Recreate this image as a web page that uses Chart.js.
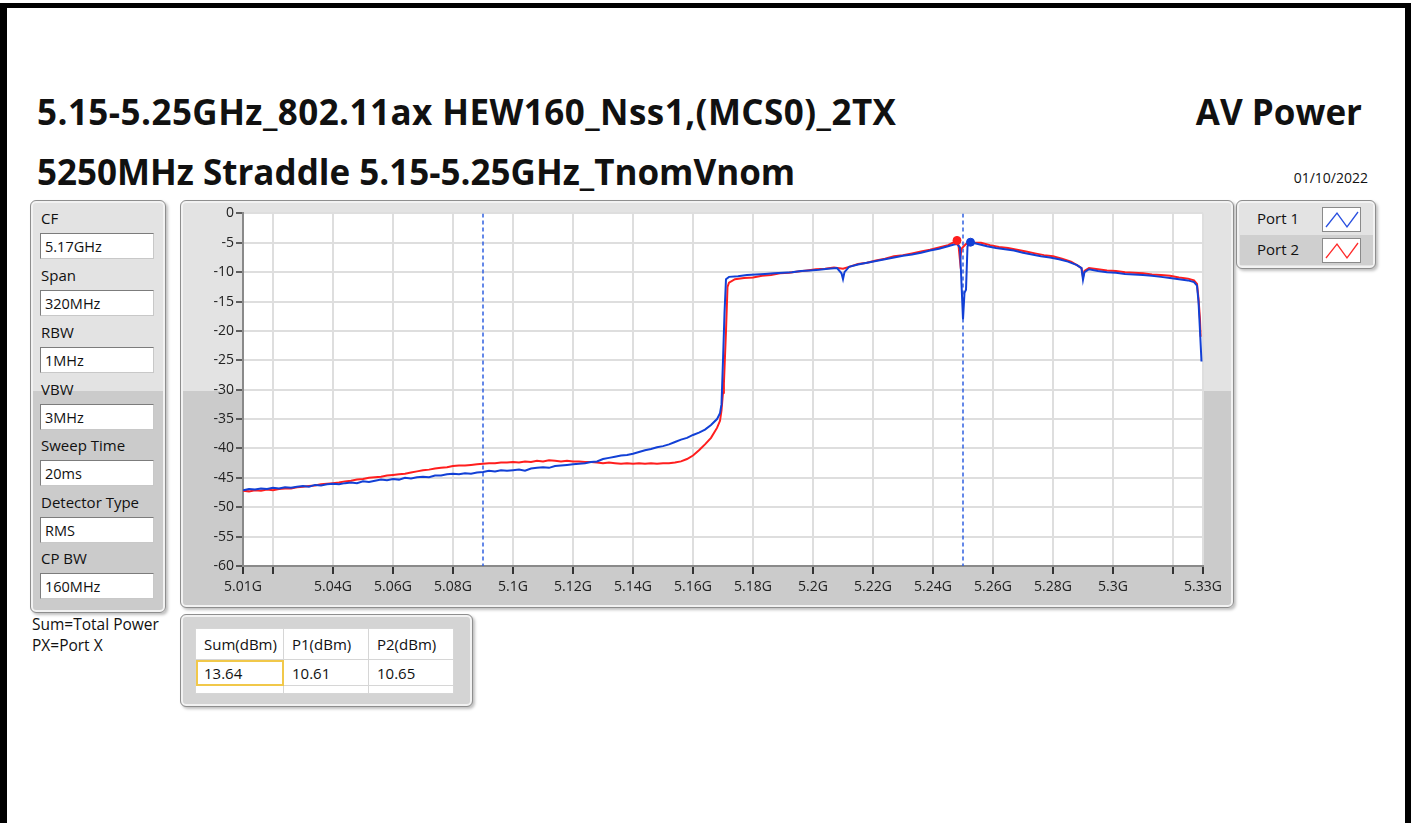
<!DOCTYPE html>
<html>
<head>
<meta charset="utf-8">
<script src="https://cdn.jsdelivr.net/npm/chart.js@4"></script>
<style>
  html, body { margin: 0; padding: 0; background: #fff; }
  body { width: 1415px; height: 823px; position: relative; overflow: hidden; font-family: "Open Sans", "Noto Sans", sans-serif; color: #111; }
  .frame { position: absolute; left: 0; top: 3px; width: 1398px; height: 830px; border-left: 7px solid #000; border-top: 5px solid #000; border-right: 6px solid #000; }
  .title { position: absolute; font-weight: bold; font-size: 35px; white-space: nowrap; color: #111; }
  .date { position: absolute; font-size: 14px; right: 47px; top: 168px; }
  .panel { position: absolute; border: 1px solid #8e8e8e; border-radius: 6px; box-shadow: inset 0 0 0 2px #f2f2f2, 2px 2px 3px rgba(0,0,0,0.25); }
  .split { background: linear-gradient(#e3e3e3 0, #e3e3e3 190px, #cbcbcb 190px, #cbcbcb 100%); }
  .lbl { position: absolute; left: 10px; font-size: 15px; }
  .box { position: absolute; left: 9px; width: 114px; height: 26px; background: #fff; border: 1px solid #7c7c7c; border-right-color: #c8c8c8; border-bottom-color: #c8c8c8; font-size: 14.5px; line-height: 26px; padding-left: 4px; box-sizing: border-box; }
  .note { position: absolute; left: 32px; font-size: 15.5px; }
  .legrow { position: absolute; left: 3px; width: 133px; height: 30px; }
  .legrow span { position: absolute; left: 17px; top: 4px; font-size: 15px; }
  .legrow svg { position: absolute; left: 82px; top: 3px; background: #fff; border: 1px solid #8a8a8a; }
  table { position: absolute; left: 14px; top: 13px; border-collapse: collapse; background: #fff; font-size: 15px; }
  td { border: 1px solid #d6d6d6; height: 26px; padding: 0 0 0 8px; box-sizing: border-box; }
  td.sel { outline: 2px solid #f1c84a; outline-offset: -2px; }
  #plot { position: absolute; left: 185px; top: 203px; }
</style>
</head>
<body>
<div class="frame"></div>

<div class="title" style="left:37px; top:88px; letter-spacing:0.45px;">5.15-5.25GHz_802.11ax HEW160_Nss1,(MCS0)_2TX</div>
<div class="title" style="right:53px; top:88px;">AV Power</div>
<div class="title" style="left:37px; top:148px;">5250MHz Straddle 5.15-5.25GHz_TnomVnom</div>
<div class="date">01/10/2022</div>

<div class="panel split" style="left:30px; top:200px; width:134px; height:411px;">
  <div class="lbl" style="top:7px;">CF</div>
  <div class="box" style="top:32px;">5.17GHz</div>
  <div class="lbl" style="top:64px;">Span</div>
  <div class="box" style="top:89px;">320MHz</div>
  <div class="lbl" style="top:121px;">RBW</div>
  <div class="box" style="top:146px;">1MHz</div>
  <div class="lbl" style="top:178px;">VBW</div>
  <div class="box" style="top:203px;">3MHz</div>
  <div class="lbl" style="top:234px;">Sweep Time</div>
  <div class="box" style="top:259px;">20ms</div>
  <div class="lbl" style="top:291px;">Detector Type</div>
  <div class="box" style="top:316px;">RMS</div>
  <div class="lbl" style="top:347px;">CP BW</div>
  <div class="box" style="top:372px;">160MHz</div>
</div>
<div class="note" style="top:613px;">Sum=Total Power</div>
<div class="note" style="top:634px;">PX=Port X</div>

<div class="panel split" style="left:180px; top:200px; width:1052px; height:406px;"></div>
<canvas id="plot" width="1045" height="400"></canvas>

<div class="panel" style="left:1236px; top:200px; width:138px; height:67px; background:#e3e3e3;">
  <div class="legrow" style="top:3px; background:#e3e3e3;">
    <span>Port 1</span>
    <svg width="37" height="23"><polyline points="3,19 14,5 24,19 35,4" fill="none" stroke="#2a50e0" stroke-width="1.3"/></svg>
  </div>
  <div class="legrow" style="top:34px; background:#cfcfcf;">
    <span>Port 2</span>
    <svg width="37" height="23"><polyline points="3,19 14,5 24,19 35,4" fill="none" stroke="#ff2a2a" stroke-width="1.3"/></svg>
  </div>
</div>

<div class="panel" style="left:180px; top:614px; width:291px; height:91px; background:#d4d4d4;">
  <table>
    <tr><td style="width:88px; height:31px;">Sum(dBm)</td><td style="width:85px;">P1(dBm)</td><td style="width:85px;">P2(dBm)</td></tr>
    <tr><td class="sel">13.64</td><td>10.61</td><td>10.65</td></tr>
    <tr><td style="height:8px;"></td><td style="height:8px;"></td><td style="height:8px;"></td></tr>
  </table>
</div>

<script>
// frequency axis ticks (GHz); blank labels get only a tick mark
const xTickValues = [5.01, 5.02, 5.04, 5.06, 5.08, 5.1, 5.12, 5.14, 5.16, 5.18, 5.2, 5.22, 5.24, 5.26, 5.28, 5.3, 5.32, 5.33];
const xTickLabels = ["5.01G", "", "5.04G", "5.06G", "5.08G", "5.1G", "5.12G", "5.14G", "5.16G", "5.18G", "5.2G", "5.22G", "5.24G", "5.26G", "5.28G", "5.3G", "", "5.33G"];

// channel power cursors (GHz)
const cursorFreq = [5.09, 5.25];

// Port 1 trace
const port1Freq = [
  5.010, 5.012, 5.014, 5.016, 5.018, 5.020, 5.022, 5.024, 5.026, 5.028,
  5.030, 5.032, 5.034, 5.036, 5.038, 5.040, 5.042, 5.044, 5.046, 5.048,
  5.050, 5.052, 5.054, 5.056, 5.058, 5.060, 5.062, 5.064, 5.066, 5.068,
  5.070, 5.072, 5.074, 5.076, 5.078, 5.080, 5.082, 5.084, 5.086, 5.088,
  5.090, 5.092, 5.094, 5.096, 5.098, 5.100, 5.102, 5.104, 5.106, 5.108,
  5.110, 5.112, 5.114, 5.116, 5.118, 5.120, 5.122, 5.124, 5.126, 5.128,
  5.130, 5.132, 5.134, 5.136, 5.138, 5.140, 5.142, 5.144, 5.146, 5.148,
  5.150, 5.152, 5.154, 5.156, 5.158, 5.160, 5.162, 5.164, 5.166, 5.168,
  5.169, 5.1695, 5.170, 5.1705, 5.171, 5.172, 5.175, 5.178, 5.181, 5.184,
  5.187, 5.190, 5.193, 5.196, 5.199, 5.202, 5.205, 5.208, 5.2095, 5.210,
  5.2105, 5.212, 5.215, 5.218, 5.221, 5.224, 5.227, 5.230, 5.233, 5.236,
  5.239, 5.242, 5.245, 5.247, 5.248, 5.249, 5.2495, 5.250, 5.2505, 5.251,
  5.2515, 5.2525, 5.255, 5.258, 5.261, 5.264, 5.267, 5.270, 5.273, 5.276,
  5.279, 5.282, 5.285, 5.288, 5.2895, 5.290, 5.2905, 5.292, 5.295, 5.298,
  5.301, 5.304, 5.307, 5.310, 5.313, 5.316, 5.319, 5.322, 5.325, 5.327,
  5.328, 5.3285, 5.329, 5.3295
];
const port1Level = [
  -47.1, -46.9, -47.0, -46.8, -46.9, -46.7, -46.8, -46.6, -46.7, -46.5,
  -46.4, -46.5, -46.2, -46.3, -46.1, -46.0, -46.1, -45.9, -45.8, -45.9,
  -45.6, -45.7, -45.5, -45.3, -45.4, -45.2, -45.3, -45.0, -45.1, -44.9,
  -44.8, -44.9, -44.6, -44.6, -44.4, -44.3, -44.4, -44.2, -44.3, -44.1,
  -44.0, -43.8, -43.9, -43.7, -43.8, -43.7, -43.6, -43.8, -43.4, -43.3,
  -43.2, -43.3, -43.0, -42.9, -42.8, -42.7, -42.6, -42.5, -42.3, -42.2,
  -41.8, -41.6, -41.4, -41.2, -41.1, -40.9, -40.6, -40.3, -40.1, -39.8,
  -39.6, -39.3, -38.9, -38.5, -38.2, -37.7, -37.3, -36.8, -36.0, -35.0,
  -34.0, -32.5, -25.0, -17.0, -11.2, -10.8, -10.7, -10.5, -10.4, -10.3,
  -10.2, -10.1, -10.0, -9.8, -9.7, -9.6, -9.4, -9.3, -10.2, -11.2,
  -10.0, -9.1, -8.7, -8.4, -8.1, -7.8, -7.5, -7.2, -7.0, -6.7,
  -6.3, -6.0, -5.6, -5.3, -5.2, -5.8, -12.0, -18.0, -13.5, -13.0,
  -5.6, -4.9, -5.2, -5.6, -5.9, -6.1, -6.3, -6.7, -7.0, -7.3,
  -7.5, -7.8, -8.2, -8.8, -9.3, -11.3, -10.0, -9.5, -9.8, -10.0,
  -10.1, -10.3, -10.4, -10.5, -10.6, -10.8, -11.0, -11.2, -11.4, -11.7,
  -12.3, -15.0, -20.0, -25.2
];

// Port 2 trace
const port2Freq = [
  5.010, 5.012, 5.014, 5.016, 5.018, 5.020, 5.022, 5.024, 5.026, 5.028,
  5.030, 5.032, 5.034, 5.036, 5.038, 5.040, 5.042, 5.044, 5.046, 5.048,
  5.050, 5.052, 5.054, 5.056, 5.058, 5.060, 5.062, 5.064, 5.066, 5.068,
  5.070, 5.072, 5.074, 5.076, 5.078, 5.080, 5.082, 5.084, 5.086, 5.088,
  5.090, 5.092, 5.094, 5.096, 5.098, 5.100, 5.102, 5.104, 5.106, 5.108,
  5.110, 5.112, 5.114, 5.116, 5.118, 5.120, 5.122, 5.124, 5.126, 5.128,
  5.130, 5.132, 5.134, 5.136, 5.138, 5.140, 5.142, 5.144, 5.146, 5.148,
  5.150, 5.152, 5.154, 5.156, 5.158, 5.160, 5.162, 5.164, 5.166, 5.168,
  5.169, 5.1695, 5.170, 5.1703, 5.171, 5.1715, 5.172, 5.174, 5.177, 5.180,
  5.183, 5.186, 5.189, 5.192, 5.195, 5.198, 5.201, 5.204, 5.207, 5.210,
  5.212, 5.215, 5.218, 5.221, 5.224, 5.227, 5.230, 5.233, 5.236, 5.239,
  5.242, 5.245, 5.247, 5.248, 5.2485, 5.249, 5.2495, 5.251, 5.253, 5.256,
  5.259, 5.262, 5.265, 5.268, 5.271, 5.274, 5.277, 5.280, 5.283, 5.286,
  5.288, 5.2895, 5.290, 5.2905, 5.292, 5.295, 5.298, 5.301, 5.304, 5.307,
  5.310, 5.313, 5.316, 5.319, 5.322, 5.325, 5.327, 5.328, 5.3285, 5.329,
  5.3292
];
const port2Level = [
  -47.2, -47.3, -47.1, -47.2, -47.0, -47.1, -46.9, -46.8, -46.8, -46.6,
  -46.5, -46.4, -46.3, -46.1, -46.0, -45.9, -45.8, -45.6, -45.5, -45.3,
  -45.2, -45.0, -44.9, -44.8, -44.6, -44.5, -44.4, -44.3, -44.1, -43.9,
  -43.7, -43.6, -43.4, -43.3, -43.2, -43.0, -42.9, -42.9, -42.8, -42.7,
  -42.6, -42.5, -42.5, -42.4, -42.4, -42.3, -42.4, -42.2, -42.3, -42.1,
  -42.2, -42.0, -42.1, -42.2, -42.1, -42.2, -42.2, -42.3, -42.3, -42.4,
  -42.5, -42.4, -42.5, -42.6, -42.5, -42.6, -42.5, -42.6, -42.5, -42.6,
  -42.5, -42.5, -42.4, -42.2, -41.8, -41.2, -40.3, -39.3, -38.2, -36.5,
  -35.3, -33.5, -30.5, -29.0, -20.0, -12.5, -11.8, -11.2, -11.0, -10.9,
  -10.6, -10.5, -10.2, -10.1, -9.9, -9.7, -9.5, -9.4, -9.2, -9.4,
  -9.1, -8.6, -8.4, -8.0, -7.7, -7.3, -7.1, -6.8, -6.5, -6.2,
  -5.8, -5.4, -4.9, -4.6, -5.4, -8.0, -6.0, -5.2, -5.0, -5.0,
  -5.4, -5.7, -5.9, -6.2, -6.5, -6.8, -7.1, -7.3, -7.7, -8.2,
  -8.8, -9.3, -10.8, -9.8, -9.3, -9.5, -9.7, -9.8, -10.0, -10.1,
  -10.2, -10.4, -10.5, -10.6, -10.9, -11.1, -11.4, -12.0, -14.5, -18.0,
  -21.0
];

// peak markers: [Port 1, Port 2]
const markerFreq = [5.2525, 5.248];
const markerLevel = [-4.9, -4.6];

const BLUE = "#1240d6";
const RED = "#ff1e1e";

const toPoints = (xs, ys) => xs.map((x, i) => ({ x: x, y: ys[i] }));

const datasets = [
  { label: "Port 1 peak", data: [{ x: markerFreq[0], y: markerLevel[0] }], showLine: false,
    pointRadius: 4, pointBackgroundColor: BLUE, pointBorderColor: BLUE, order: 0 },
  { label: "Port 2 peak", data: [{ x: markerFreq[1], y: markerLevel[1] }], showLine: false,
    pointRadius: 4, pointBackgroundColor: RED, pointBorderColor: RED, order: 0 },
  { label: "Port 1", data: toPoints(port1Freq, port1Level), borderColor: BLUE, borderWidth: 2,
    pointRadius: 0, tension: 0, order: 1 },
  { label: "Port 2", data: toPoints(port2Freq, port2Level), borderColor: RED, borderWidth: 2,
    pointRadius: 0, tension: 0, order: 2 },
];
cursorFreq.forEach((f) => {
  datasets.push({ label: "cursor", data: [{ x: f, y: 0 }, { x: f, y: -60 }], borderColor: "#2f5fe0",
    borderWidth: 1.5, borderDash: [4, 3], pointRadius: 0, order: 3 });
});

// white plot area inside the grey frame
const plotBackground = {
  id: "plotBackground",
  beforeDraw(chart) {
    const { ctx, chartArea } = chart;
    ctx.save();
    ctx.fillStyle = "#fff";
    ctx.fillRect(chartArea.left, chartArea.top, chartArea.width, chartArea.height);
    ctx.restore();
  },
};

const tickFont = { family: "'Open Sans', 'Noto Sans', sans-serif", size: 14 };

new Chart(document.getElementById("plot"), {
  type: "line",
  data: { datasets: datasets },
  plugins: [plotBackground],
  options: {
    responsive: false,
    animation: false,
    devicePixelRatio: 1,
    layout: { padding: { top: 7, right: 27, left: 0, bottom: 0 } },
    plugins: { legend: { display: false }, tooltip: { enabled: false } },
    scales: {
      x: {
        type: "linear",
        min: 5.01,
        max: 5.33,
        afterBuildTicks: (scale) => { scale.ticks = xTickValues.map((v) => ({ value: v })); },
        afterFit: (scale) => { scale.height = 37; },
        ticks: {
          autoSkip: false,
          maxRotation: 0,
          padding: 5,
          color: "#222",
          font: tickFont,
          callback: (v, i) => xTickLabels[i],
        },
        grid: { color: "#dedede", lineWidth: 2, tickColor: "#333", tickLength: 8, tickWidth: 2 },
        border: { color: "#8a8a8a", width: 2 },
      },
      y: {
        min: -60,
        max: 0,
        afterFit: (scale) => { scale.width = 58; },
        ticks: { stepSize: 5, padding: 2, color: "#222", font: tickFont },
        grid: { color: "#dedede", lineWidth: 2, tickColor: "#333", tickLength: 7, tickWidth: 1.5 },
        border: { color: "#8a8a8a", width: 2 },
      },
    },
  },
});
</script>
</body>
</html>
